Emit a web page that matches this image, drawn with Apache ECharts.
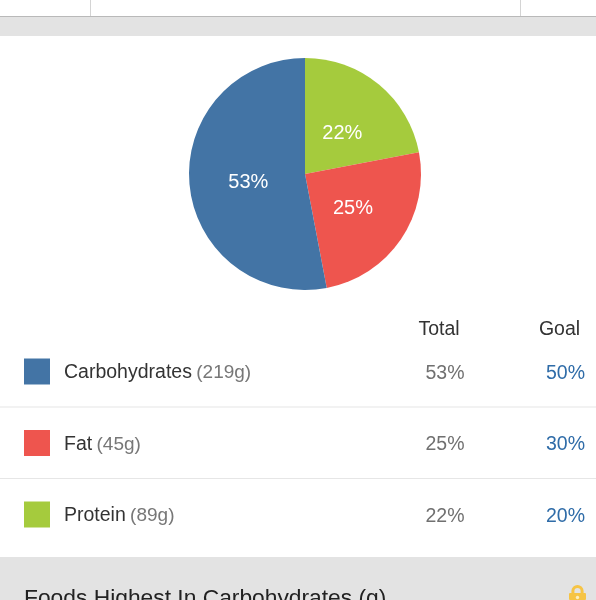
<!DOCTYPE html>
<html><head><meta charset="utf-8">
<style>html,body{margin:0;padding:0;background:#fff}#c{width:596px;height:600px}</style>
<script src="https://cdn.jsdelivr.net/npm/echarts@6/dist/echarts.min.js"></script>
</head><body><div id="c"></div>
<script>
const categories = ['Carbohydrates', 'Fat', 'Protein'];
const grams = [219, 45, 89];
const totals = [53, 25, 22];
const goals = [50, 30, 20];
const colors = ['#4374a5', '#ee554e', '#a5cb3d'];
const footerTitle = 'Foods Highest In Carbohydrates (g)';

const font = '"Liberation Sans", Arial, sans-serif';
const rowY = [373.5, 445, 516.5];
const labelNudge = [[4, 3], [-2.5, 0], [-1.5, 6]];
const chart = echarts.init(document.getElementById('c'), null, {renderer: 'canvas'});
const pieOrder = [2, 1, 0];

const txt = (x, y, text, fill, align, size) => ({
  type: 'text', x, y,
  style: {text, fill, font: (size || 19.5) + 'px ' + font, textAlign: align || 'left', textVerticalAlign: 'middle'}
});
const rect = (x, y, width, height, fill, r) => ({type: 'rect', shape: {x, y, width, height, r: r || 0}, style: {fill}, silent: true});

const lock = '#f6c445';
const elements = [
  rect(0, 16, 596, 1.4, '#b9b9b9'),
  rect(90, 0, 1, 16, '#d4d4d4'),
  rect(520, 0, 1, 16, '#d4d4d4'),
  rect(0, 17, 596, 19, '#e3e3e3'),
  rect(0, 406.5, 596, 1, '#e6e6e6'),
  rect(0, 478, 596, 1, '#e6e6e6'),
  rect(0, 557, 596, 43, '#e3e3e3'),
  txt(439, 329.5, 'Total', '#333333', 'center'),
  txt(559.5, 329.5, 'Goal', '#333333', 'center'),
  txt(24, 599, footerTitle, '#222222', 'left', 22.8),
  {type: 'arc', shape: {cx: 577.5, cy: 591, r: 4.6, startAngle: Math.PI, endAngle: 0, clockwise: true},
   style: {fill: 'none', stroke: lock, lineWidth: 3}, silent: true},
  {type: 'line', shape: {x1: 572.9, y1: 591, x2: 572.9, y2: 594}, style: {stroke: lock, lineWidth: 3}, silent: true},
  {type: 'line', shape: {x1: 582.1, y1: 591, x2: 582.1, y2: 594}, style: {stroke: lock, lineWidth: 3}, silent: true},
  rect(569, 593, 17, 7, lock, 1),
  {type: 'circle', shape: {cx: 577.5, cy: 597.5, r: 1.7}, style: {fill: '#fbeec2'}, silent: true}
];
categories.forEach((c, i) => {
  elements.push(txt(445, rowY[i], totals[i] + '%', '#707070', 'center'));
  elements.push(txt(565.5, rowY[i], goals[i] + '%', '#2f6ca8', 'center'));
});

chart.setOption({
  animation: false,
  backgroundColor: '#ffffff',
  legend: {
    orient: 'vertical', left: 24, top: 358.5, padding: 0,
    itemWidth: 26, itemHeight: 26, itemGap: 45.5,
    icon: 'rect', selectedMode: false,
    data: categories,
    formatter: name => {
      const i = categories.indexOf(name);
      return '{n|' + name + '} {g|(' + grams[i] + 'g)}';
    },
    textStyle: {
      padding: [3, 0, 0, 9],
      rich: {
        n: {fontFamily: font, fontSize: 19.5, color: '#333333'},
        g: {fontFamily: font, fontSize: 19, color: '#777777', padding: [0, 0, 0, 1]}
      }
    }
  },
  series: [{
    type: 'pie',
    center: [305, 174], radius: [0, 116],
    startAngle: 90, clockwise: true,
    silent: true,
    label: {
      show: true, position: 'inside', color: '#ffffff',
      fontFamily: font, fontSize: 20,
      formatter: p => p.value + '%'
    },
    labelLine: {show: false},
    data: pieOrder.map(i => ({
      name: categories[i], value: totals[i],
      itemStyle: {color: colors[i]},
      label: {offset: labelNudge[i]}
    }))
  }],
  graphic: {elements}
});
</script></body></html>
